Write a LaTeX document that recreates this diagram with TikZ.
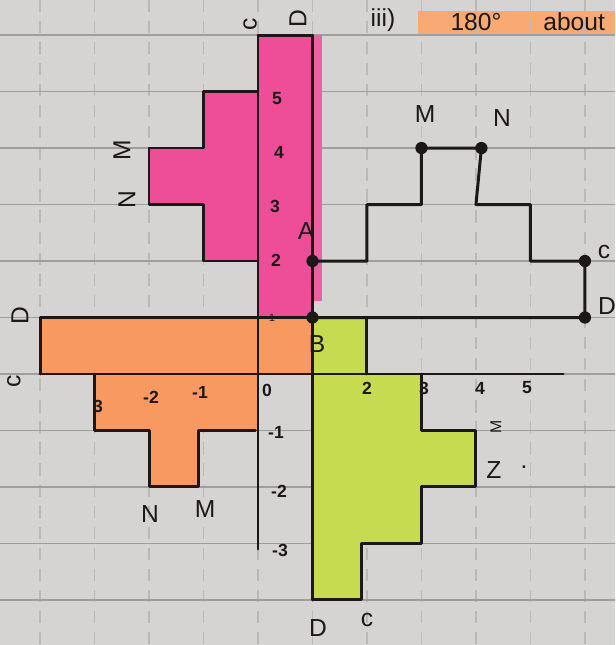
\documentclass[tikz,border=0pt]{standalone}
\usepackage{fontspec}
\setmainfont{Liberation Sans}
\definecolor{paperc}{RGB}{214,212,211}
\definecolor{gridc}{RGB}{160,158,157}
\definecolor{inkc}{RGB}{28,24,24}
\definecolor{pinkc}{RGB}{238,78,152}
\definecolor{orangec}{RGB}{247,153,96}
\definecolor{greenc}{RGB}{198,219,80}
\definecolor{hlc}{RGB}{249,170,115}
\tikzset{
  gridh/.style={draw=gridc, line width=0.9pt},
  gridv/.style={draw=gridc!50!paperc, line width=0.7pt, dash pattern=on 7pt off 5pt},
  ink/.style={draw=inkc, line width=1.7pt, line join=round, line cap=round},
  inkthin/.style={draw=inkc, line width=1.2pt, line join=round, line cap=round},
  lab/.style={font=\fontsize{14}{14}\selectfont, text=inkc, inner sep=0pt},
  num/.style={font=\fontsize{10}{10}\selectfont\bfseries, text=inkc, inner sep=0pt},
  head/.style={font=\fontsize{14}{14}\selectfont, text=inkc, inner sep=0pt},
  vdot/.style={circle, fill=inkc, inner sep=0pt, minimum size=7pt},
}
\begin{document}
\begin{tikzpicture}[x=0.02cm,y=-0.02cm]
\useasboundingbox (0,0) rectangle (615,645);
\clip (0,0) rectangle (615,645);
\fill[paperc] (0,0) rectangle (615,645);
% header highlight
\fill[hlc] (418,11) rectangle (615,35);
\begin{scope}[shift={(258,374)}, x={(1.09cm,0cm)}, y={(0cm,1.13cm)}]
  % paper grid
  \foreach \k in {-4,...,6} \draw[gridv] (\k,7) -- (\k,-5);
  \foreach \k in {-4,...,6} \draw[gridh] (-5,\k) -- (7,\k);
  % fills
  \fill[pinkc] (0,1) rectangle (1,6);
  \fill[pinkc!85!paperc] (1,1.3) rectangle (1.17,6);
  \fill[pinkc] (-1,2) rectangle (0,5);
  \fill[pinkc] (-2,3) rectangle (-1,4);
  \fill[orangec] (-4,1) rectangle (1,0);
  \fill[orangec] (-3,0) rectangle (0,-1);
  \fill[orangec] (-2,-1) rectangle (-1.1,-2);
  \fill[greenc] (1,1) -- (2,1) -- (2,0) -- (3,0) -- (3,-1) -- (4,-1) -- (4,-2)
     -- (3,-2) -- (3,-3) -- (1.9,-3) -- (1.9,-4) -- (1,-4) -- cycle;
  % pink outline
  \draw[ink] (0,6) -- (1,6);
  \draw[inkthin] (0,5) -- (-1,5) -- (-1,4) -- (-2,4) -- (-2,3) -- (-1,3) -- (-1,2) -- (0,2);
  % orange outline
  \draw[ink] (-4,0) -- (-4,1) -- (1,1);
  \draw[ink] (-3,0) -- (-3,-1) -- (-2,-1) -- (-2,-2) -- (-1.1,-2) -- (-1.1,-1) -- (-0.05,-1);
  % green outline
  \draw[ink] (1,1) -- (2,1) -- (2,0);
  \draw[ink] (3,0) -- (3,-1) -- (4,-1) -- (4,-2) -- (3,-2) -- (3,-3) -- (1.9,-3) -- (1.9,-4) -- (1,-4);
  % axes
  \draw[ink] (0,6) -- (0,-3.1);
  \draw[ink] (-4,0) -- (5.6,0);
  \draw[ink] (1,6) -- (1,-4);
  % black shape
  \coordinate (A) at (1,2);
  \coordinate (M) at (3,4);
  \coordinate (N) at (4.1,4);
  \coordinate (C) at (6,2);
  \coordinate (D) at (6,1);
  \coordinate (B) at (1,1);
  \draw[ink] (A) -- (2,2) -- (2,3) -- (3,3) -- (M) -- (N) -- (4,3) -- (5,3) -- (5,2)
     -- (C) -- (D) -- (B) -- cycle;
  \foreach \p in {A,M,N,C,D,B} \node[vdot] (dot\p) at (\p) {};
\end{scope}
% header text
\node[lab, rotate=90] (tc) at (250,24) {c};
\node[lab, rotate=90] (td) at (298,19) {D};
\node[head] (hnum) at (383,20) {iii)};
\node[head] (h180) at (476,22) {180°};
\node[head, anchor=west] (habout) at (543,22) {about};
% black shape labels
\node[lab] (lA) at (306,231) {A};
\node[lab] (lM) at (425,114) {M};
\node[lab] (lN) at (502,118) {N};
\node[lab] (lC) at (604,252) {c};
\node[lab] (lD) at (607,306) {D};
\node[lab] (lB) at (317,344) {B};
% pink labels
\node[lab, rotate=90] (pM) at (122,150) {M};
\node[lab, rotate=90] (pN) at (127,200) {N};
% orange labels
\node[lab, rotate=90] (oD) at (20,316) {D};
\node[lab, rotate=90] (oC) at (14,381) {c};
\node[lab] (oN) at (150,514) {N};
\node[lab] (oM) at (205,509) {M};
% green labels
\node[lab, rotate=90, font=\fontsize{9}{9}\selectfont] (gM) at (496,427) {M};
\node[lab] (gZ) at (494,470) {Z};
\node[lab] (gdot) at (524,467) {.};
\node[lab] (gD) at (318,628) {D};
\node[lab] (gC) at (367,620) {c};
% axis numbers
\node[num] (y5) at (277,99) {5};
\node[num] (y4) at (279,152) {4};
\node[num] (y3) at (275,206) {3};
\node[num] (y2) at (276,260) {2};
\node[num, font=\fontsize{6}{6}\selectfont] (y1) at (272,318) {1};
\node[num] (x0) at (267,390) {0};
\node[num] (xm1) at (200,392) {-1};
\node[num] (xm2) at (151,397) {-2};
\node[num] (xm3) at (98,406) {3};
\node[num] (x2) at (367,388) {2};
\node[num] (x3) at (424,388) {3};
\node[num] (x4) at (480,388) {4};
\node[num] (x5) at (527,388) {5};
\node[num] (ym1) at (276,432) {-1};
\node[num] (ym2) at (279,491) {-2};
\node[num] (ym3) at (280,550) {-3};
\end{tikzpicture}
\end{document}
